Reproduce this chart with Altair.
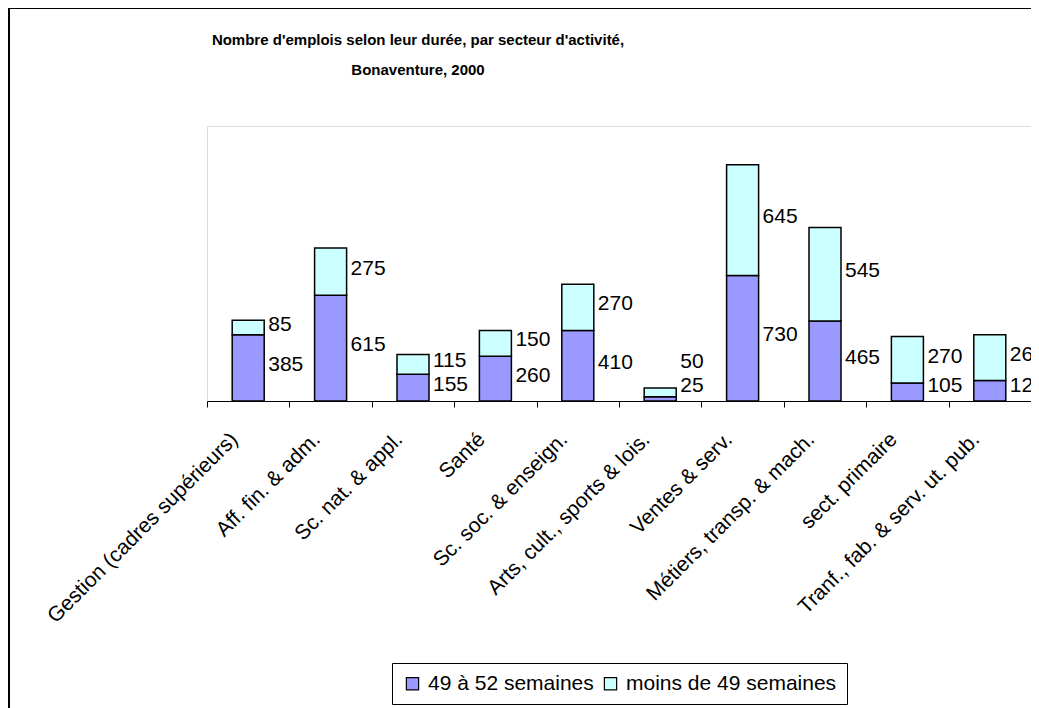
import altair as alt
import pandas as pd

categories = [
    "Gestion (cadres supérieurs)",
    "Aff. fin. & adm.",
    "Sc. nat. & appl.",
    "Santé",
    "Sc. soc. & enseign.",
    "Arts, cult., sports & lois.",
    "Ventes & serv.",
    "Métiers, transp. & mach.",
    "sect. primaire",
    "Tranf., fab. & serv. ut. pub.",
]
semaines_49_52 = [385, 615, 155, 260, 410, 25, 730, 465, 105, 120]
moins_de_49 = [85, 275, 115, 150, 270, 50, 645, 545, 270, 265]
series_names = ["49 à 52 semaines", "moins de 49 semaines"]
series_colors = ["#9999FF", "#CCFFFF"]
title_lines = [
    "Nombre d'emplois selon leur durée, par secteur d'activité,",
    "Bonaventure, 2000",
]

FONT = "Liberation Sans"
Y_MAX = 1600
PLOT_W, PLOT_H = 824, 275

rows = []
for i, cat in enumerate(categories):
    rows.append(dict(cat=cat, serie=series_names[0], val=semaines_49_52[i], ordre=0))
    rows.append(dict(cat=cat, serie=series_names[1], val=moins_de_49[i], ordre=1))
bars_df = pd.DataFrame(rows)

# data labels: centred on their segment, nudged apart when segments are thin
unit = Y_MAX / PLOT_H  # data units per pixel
lab_rows = []
for i, cat in enumerate(categories):
    p, c = semaines_49_52[i], moins_de_49[i]
    low = max(p / 2, 12 * unit)
    up = max(p + c / 2, low + 24 * unit)
    lab_rows.append(dict(cat=cat, ly=low, txt=str(p)))
    lab_rows.append(dict(cat=cat, ly=up, txt=str(c)))
labels_df = pd.DataFrame(lab_rows)

y_scale = alt.Scale(domain=[0, Y_MAX], nice=False, zero=True)

x_axis = alt.Axis(
    labelAngle=-45,
    labelAlign="right",
    labelBaseline="middle",
    labelFontSize=21,
    labelFont=FONT,
    labelColor="black",
    labelLimit=500,
    labelOffset=-14,
    labelPadding=29,
    labelOverlap=False,
    tickBand="extent",
    tickSize=6,
    tickColor="black",
    domainColor="black",
    domainWidth=1,
    grid=False,
)

one_row = pd.DataFrame({"k": [0]})

frame = alt.Chart(one_row).mark_rect(
    filled=False, stroke="black", strokeWidth=2
).encode(
    x=alt.value(-198), x2=alt.value(1200), y=alt.value(-118), y2=alt.value(900)
)

title = alt.Chart(one_row).mark_text(
    align="center", baseline="alphabetic", lineHeight=30,
    font=FONT, fontSize=15, fontWeight="bold", color="black",
).encode(
    x=alt.value(211), y=alt.value(-81), text=alt.value(title_lines)
)

bars = alt.Chart(bars_df).mark_bar(size=32, stroke="black", strokeWidth=1.5).encode(
    x=alt.X("cat:N", sort=categories, title=None,
            scale=alt.Scale(paddingInner=0, paddingOuter=0), axis=x_axis),
    y=alt.Y("val:Q", stack="zero", scale=y_scale, axis=None),
    color=alt.Color(
        "serie:N",
        scale=alt.Scale(domain=series_names, range=series_colors),
        legend=alt.Legend(
            orient="none",
            legendX=185,
            legendY=537,
            direction="horizontal",
            title=None,
            symbolType="square",
            symbolSize=150,
            symbolStrokeColor="black",
            symbolStrokeWidth=1.2,
            labelFontSize=21,
            labelFont=FONT,
            labelColor="black",
            labelLimit=400,
            labelOffset=5,
            columnPadding=6,
            padding=10,
            strokeColor="black",
            fillColor="white",
        ),
    ),
    order=alt.Order("ordre:Q", sort="ascending"),
)

texts = alt.Chart(labels_df).mark_text(
    align="left", baseline="middle", dx=20, dy=-3, fontSize=21, font=FONT, color="black"
).encode(
    x=alt.X("cat:N", sort=categories, title=None),
    y=alt.Y("ly:Q", scale=y_scale, title=None),
    text="txt:N",
)

chart = alt.layer(frame, title, bars, texts).properties(
    width=PLOT_W,
    height=PLOT_H,
    autosize=alt.AutoSizeParams(type="none"),
    padding={"left": 199, "top": 118, "right": 0, "bottom": 307},
).configure_view(
    stroke="#808080", strokeWidth=1
).configure(background="white")

chart.save("out.html", embed_options={"renderer": "svg", "actions": False})
